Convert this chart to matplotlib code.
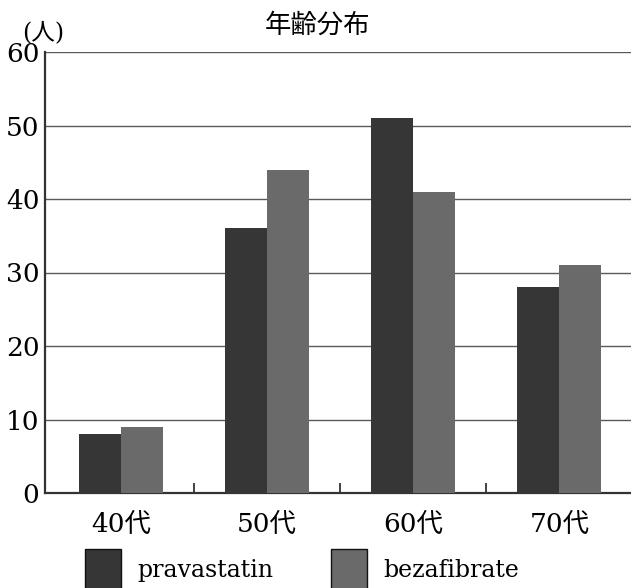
import matplotlib.pyplot as plt
import numpy as np

# data
categories = ['40代', '50代', '60代', '70代']
pravastatin = [8, 36, 51, 28]
bezafibrate = [9, 44, 41, 31]
series_names = ['pravastatin', 'bezafibrate']

fonts = ['DejaVu Serif', 'Noto Sans CJK JP']
plt.rcParams['font.family'] = fonts

fig = plt.figure(figsize=(6.31, 5.88), dpi=100)
ax = fig.add_axes([45 / 631, 95 / 588, 586 / 631, 441 / 588])

x = np.arange(len(categories))
w = 0.287
ax.bar(x - w / 2, pravastatin, w, color='#363636', label=series_names[0], zorder=3)
ax.bar(x + w / 2, bezafibrate, w, color='#6a6a6a', label=series_names[1], zorder=3)

ax.set_xlim(-0.52, 3.49)
ax.set_ylim(0, 60)
ax.set_yticks(range(0, 61, 10))
ax.yaxis.grid(True, color='#5a5a5a', lw=1.0, zorder=0)
ax.tick_params(axis='y', length=0, labelsize=19, pad=4)

ax.set_xticks(x)
ax.set_xticklabels(categories)
ax.tick_params(axis='x', which='major', length=0, labelsize=19, pad=14)
ax.set_xticks([0.5, 1.5, 2.5], minor=True)
ax.tick_params(axis='x', which='minor', direction='in', length=7, width=1.2, color='#222222')

for s in ['top', 'right']:
    ax.spines[s].set_visible(False)
ax.spines['left'].set_linewidth(1.6)
ax.spines['left'].set_color('#333333')
ax.spines['bottom'].set_linewidth(1.6)
ax.spines['bottom'].set_color('#333333')

fig.text(318 / 631, 1 - 25 / 588, '年齢分布', ha='center', va='center', fontsize=19)
fig.text(43 / 631, 1 - 33 / 588, '(人)', ha='center', va='center', fontsize=17)

leg = ax.legend(loc='upper left', bbox_to_anchor=(76 / 631, 1 - 540 / 588),
                bbox_transform=fig.transFigure, ncol=2, frameon=False,
                fontsize=17, handlelength=1.5, handleheight=2.2,
                handletextpad=0.7, columnspacing=2.45, borderaxespad=0)
for p in leg.get_patches():
    p.set_edgecolor('#111111')
    p.set_linewidth(1.0)

fig.savefig('out.png', dpi=100)
